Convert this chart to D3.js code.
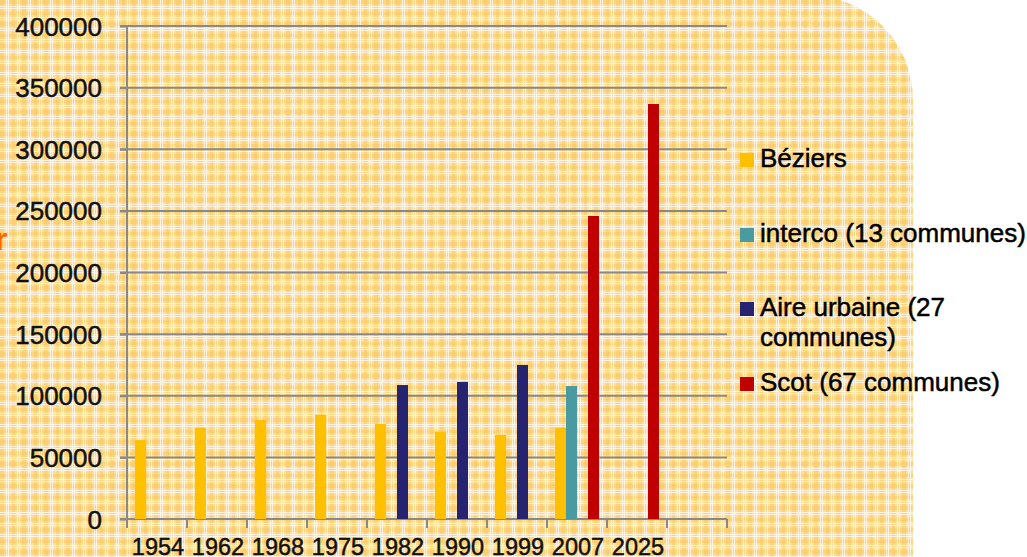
<!DOCTYPE html>
<html>
<head>
<meta charset="utf-8">
<script src="https://cdn.jsdelivr.net/npm/d3@7"></script>
<style>
  html, body { margin: 0; padding: 0; background: #ffffff; }
  svg { display: block; }
  text { font-family: "Liberation Sans", Arial, sans-serif; }
</style>
</head>
<body>
<script>
// ---- data ----
const categories = ["1954", "1962", "1968", "1975", "1982", "1990", "1999", "2007", "2025", " "];
const seriesNames = ["Béziers", "interco (13 communes)", "Aire urbaine (27 communes)", "Scot (67 communes)"];
const legendLines = [["Béziers"], ["interco (13 communes)"], ["Aire urbaine (27", "communes)"], ["Scot (67 communes)"]];
const beziers = [64000, 74000, 80300, 84600, 77100, 70800, 68200, 74100, null, null];
const interco = [null, null, null, null, null, null, null, 107900, null, null];
const aireUrbaine = [null, null, null, null, 108700, 111200, 125000, null, null, null];
const scot = [null, null, null, null, null, null, null, 245900, 336700, null];
const yTicks = [0, 50000, 100000, 150000, 200000, 250000, 300000, 350000, 400000];
const colors = ["#FFC000", "#4A9BA1", "#262470", "#C00000"];

const seriesValues = [beziers, interco, aireUrbaine, scot];

const W = 1027, H = 557;
const svg = d3.select("body").append("svg").attr("width", W).attr("height", H);

// ---- background pattern ----
const defs = svg.append("defs");
const pat = defs.append("pattern").attr("id", "plaid").attr("patternUnits", "userSpaceOnUse")
  .attr("width", 22).attr("height", 22);
pat.append("rect").attr("width", 22).attr("height", 22).attr("fill", "#FDDE9E");
[[0, 4], [12, 3]].forEach(([p, w]) => {
  pat.append("rect").attr("x", p).attr("y", 0).attr("width", w).attr("height", 22).attr("fill", "#FBC85E").attr("opacity", 0.5);
  pat.append("rect").attr("x", 0).attr("y", p).attr("width", 22).attr("height", w).attr("fill", "#FBC85E").attr("opacity", 0.5);
});
[[6, 1], [8, 1], [17, 1], [19, 1]].forEach(([p, w]) => {
  pat.append("rect").attr("x", p).attr("y", 0).attr("width", w).attr("height", 22).attr("fill", "#FFF8EA").attr("opacity", 0.85);
  pat.append("rect").attr("x", 0).attr("y", p).attr("width", 22).attr("height", w).attr("fill", "#FFF8EA").attr("opacity", 0.85);
});

svg.append("rect").attr("x", -120).attr("y", -5).attr("width", 1033).attr("height", H + 120)
  .attr("rx", 105).attr("ry", 105).attr("fill", "url(#plaid)");

// stray clipped text at left edge
svg.append("text").attr("x", -5).attr("y", 250).attr("font-size", 32).attr("font-weight", "bold")
  .attr("fill", "#FF6A00").text("r");

// ---- scales ----
const x0 = d3.scaleBand().domain(categories).range([127, 727]).padding(0);
const x1 = d3.scaleBand().domain(seriesNames).range([8, 52]).padding(0);
const y = d3.scaleLinear().domain([0, 400000]).range([519, 26]);

const gridColor = "#898989";
const textStroke = 0.5;

// gridlines
svg.append("g").selectAll("line").data(yTicks).join("line")
  .attr("x1", 120).attr("x2", 727)
  .attr("y1", d => y(d)).attr("y2", d => y(d))
  .attr("stroke", gridColor).attr("stroke-width", 2);

// y axis
const yAxis = svg.append("g").attr("transform", "translate(127,0)")
  .call(d3.axisLeft(y).tickValues(yTicks).tickFormat(d3.format("d")).tickSize(7).tickPadding(18));
yAxis.select(".domain").remove();
yAxis.selectAll(".tick line").attr("stroke", gridColor).attr("stroke-width", 2);
yAxis.selectAll(".tick text").attr("font-size", 26).attr("fill", "#111").attr("dy", "0.35em")
  .attr("stroke", "#111").attr("stroke-width", textStroke)
  .style("font-family", "'Liberation Sans', Arial, sans-serif");
svg.append("line").attr("x1", 127).attr("x2", 127).attr("y1", y(400000)).attr("y2", 528)
  .attr("stroke", gridColor).attr("stroke-width", 2);

// x axis
svg.append("line").attr("x1", 127).attr("x2", 727).attr("y1", y(0)).attr("y2", y(0))
  .attr("stroke", gridColor).attr("stroke-width", 2);
const bounds = categories.map(c => x0(c)).concat([x0(categories[categories.length - 1]) + x0.bandwidth()]);
svg.append("g").selectAll("line").data(bounds).join("line")
  .attr("x1", d => d).attr("x2", d => d).attr("y1", y(0)).attr("y2", 528)
  .attr("stroke", gridColor).attr("stroke-width", 2);
svg.append("g").selectAll("text").data(categories).join("text")
  .attr("x", d => x0(d) + x0.bandwidth() / 2 + 1).attr("y", 555)
  .attr("text-anchor", "middle").attr("font-size", 23.5).attr("fill", "#111")
  .attr("stroke", "#111").attr("stroke-width", textStroke)
  .text(d => d.trim());

// bars
const barData = [];
categories.forEach((c, i) => {
  seriesNames.forEach((s, j) => {
    const v = seriesValues[j][i];
    if (v != null) barData.push({ c, s, v, color: colors[j] });
  });
});
svg.append("g").selectAll("rect").data(barData).join("rect")
  .attr("x", d => x0(d.c) + x1(d.s))
  .attr("width", x1.bandwidth())
  .attr("y", d => y(d.v))
  .attr("height", d => y(0) - y(d.v))
  .attr("fill", d => d.color);

// legend
const legendY = [167, 242, 316, 391];
const leg = svg.append("g");
seriesNames.forEach((s, i) => {
  leg.append("rect").attr("x", 740).attr("y", legendY[i] - 14).attr("width", 14).attr("height", 14)
    .attr("fill", colors[i]);
  const t = leg.append("text").attr("x", 760).attr("y", legendY[i]).attr("font-size", 26)
    .attr("fill", "#000").attr("stroke", "#000").attr("stroke-width", textStroke);
  legendLines[i].forEach((line, k) => {
    t.append("tspan").attr("x", 760).attr("dy", k === 0 ? 0 : 30).text(line);
  });
});
</script>
</body>
</html>
